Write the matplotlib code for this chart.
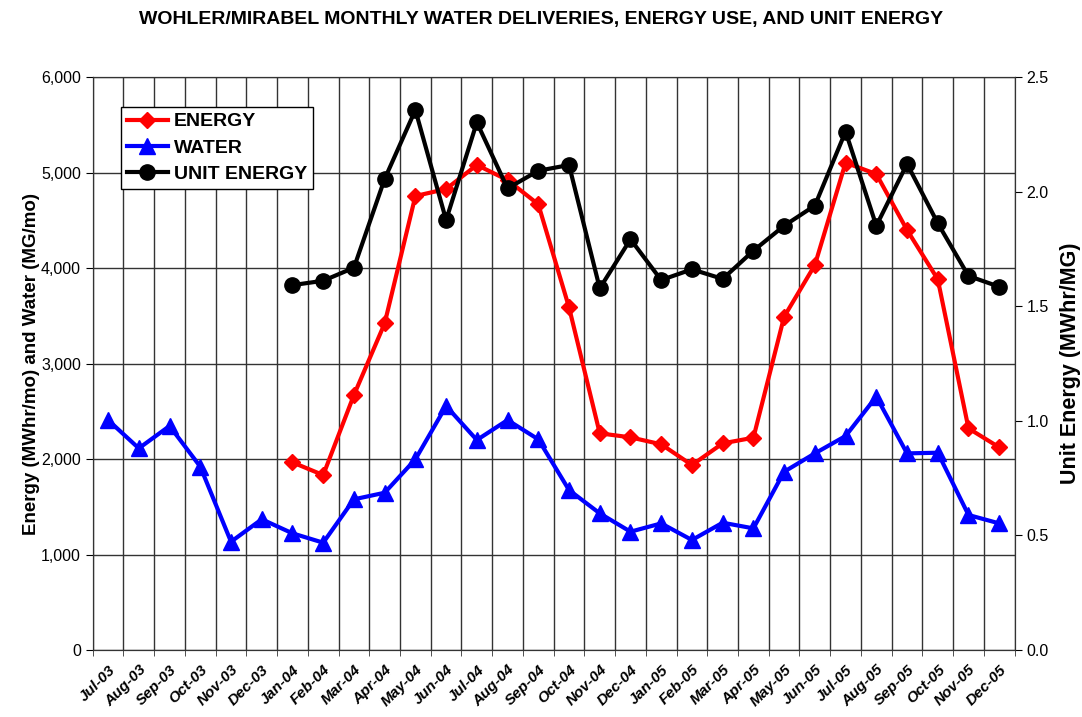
import numpy as np
import matplotlib.pyplot as plt
from matplotlib.ticker import FuncFormatter

plt.rcParams['font.family'] = ['Liberation Sans', 'DejaVu Sans']

months = ["Jul-03", "Aug-03", "Sep-03", "Oct-03", "Nov-03", "Dec-03",
          "Jan-04", "Feb-04", "Mar-04", "Apr-04", "May-04", "Jun-04",
          "Jul-04", "Aug-04", "Sep-04", "Oct-04", "Nov-04", "Dec-04",
          "Jan-05", "Feb-05", "Mar-05", "Apr-05", "May-05", "Jun-05",
          "Jul-05", "Aug-05", "Sep-05", "Oct-05", "Nov-05", "Dec-05"]

# energy (MWhr/mo), starts Jan-04
energy = [np.nan] * 6 + [1965, 1832, 2670, 3420, 4754, 4827, 5079, 4921, 4667, 3588,
                         2269, 2227, 2154, 1937, 2164, 2223, 3490, 4031, 5103, 4984,
                         4398, 3882, 2321, 2122]

# water (MG/mo)
water = [2408, 2112, 2346, 1920, 1134, 1369, 1222, 1124, 1578, 1647, 1997, 2555,
         2199, 2408, 2206, 1675, 1431, 1239, 1326, 1152, 1333, 1274, 1867, 2059,
         2241, 2653, 2059, 2066, 1414, 1326]

# unit energy (MWhr/MG), starts Jan-04
unit_energy = [np.nan] * 6 + [1.592, 1.611, 1.668, 2.055, 2.356, 1.876, 2.302, 2.014,
                              2.091, 2.116, 1.578, 1.792, 1.614, 1.661, 1.619, 1.742,
                              1.851, 1.939, 2.262, 1.851, 2.121, 1.862, 1.632, 1.585]

x = np.arange(len(months))

fig = plt.figure(figsize=(10.82, 7.17), dpi=100)
ax = fig.add_axes([0.0857, 0.0934, 0.852, 0.7992])
ax2 = ax.twinx()

l1, = ax.plot(x, energy, color="#ff0000", lw=3, marker="D", ms=8, label="ENERGY")
l2, = ax.plot(x, water, color="#0000ff", lw=3, marker="^", ms=11, label="WATER")
l3, = ax2.plot(x, unit_energy, color="black", lw=3, marker="o", ms=11, label="UNIT ENERGY")

ax.set_xlim(-0.5, len(months) - 0.5)
ax.set_ylim(0, 6000)
ax2.set_ylim(0, 2.5)
ax.set_yticks(np.arange(0, 6001, 1000))
ax2.set_yticks(np.arange(0, 2.51, 0.5))
ax.yaxis.set_major_formatter(FuncFormatter(lambda v, p: f"{v:,.0f}"))
ax2.yaxis.set_major_formatter(FuncFormatter(lambda v, p: f"{v:.1f}"))

ax.set_xticks(x)
ax.set_xticklabels(months, rotation=45, ha="right", rotation_mode="anchor",
                   fontsize=11, fontweight="bold", fontstyle="italic")
ax.set_xticks(np.arange(-0.5, len(months)), minor=True)
ax.tick_params(axis="x", which="major", length=0, pad=9)
ax.tick_params(axis="x", which="minor", length=4, color="#333333")
ax.grid(True, which="minor", axis="x", color="#333333", lw=1)
ax.grid(True, which="major", axis="y", color="#333333", lw=1)
ax.set_axisbelow(True)

ax.tick_params(axis="y", labelsize=11.5, length=5)
ax2.tick_params(axis="y", labelsize=11.5, length=5)
for sp in list(ax.spines.values()) + list(ax2.spines.values()):
    sp.set_color("#333333")

ax.set_ylabel("Energy (MWhr/mo) and Water (MG/mo)", fontsize=13.5, fontweight="bold")
ax.yaxis.set_label_coords(-0.057, 0.5)
ax2.set_ylabel("Unit Energy (MWhr/MG)", fontsize=15.5, fontweight="bold")
ax2.yaxis.set_label_coords(1.049, 0.5)

fig.suptitle("WOHLER/MIRABEL MONTHLY WATER DELIVERIES, ENERGY USE, AND UNIT ENERGY",
             fontsize=14, fontweight="bold", y=0.985)

leg = ax2.legend(handles=[l1, l2, l3], loc="upper left", bbox_to_anchor=(0.0307, 0.9476),
                 fancybox=False, framealpha=1, edgecolor="black",
                 prop={"weight": "bold", "size": 14}, handlelength=2.1,
                 handletextpad=0.3, borderpad=0.3, borderaxespad=0, labelspacing=0.45)
leg.get_frame().set_linewidth(1)

fig.savefig("out.png", dpi=100)
